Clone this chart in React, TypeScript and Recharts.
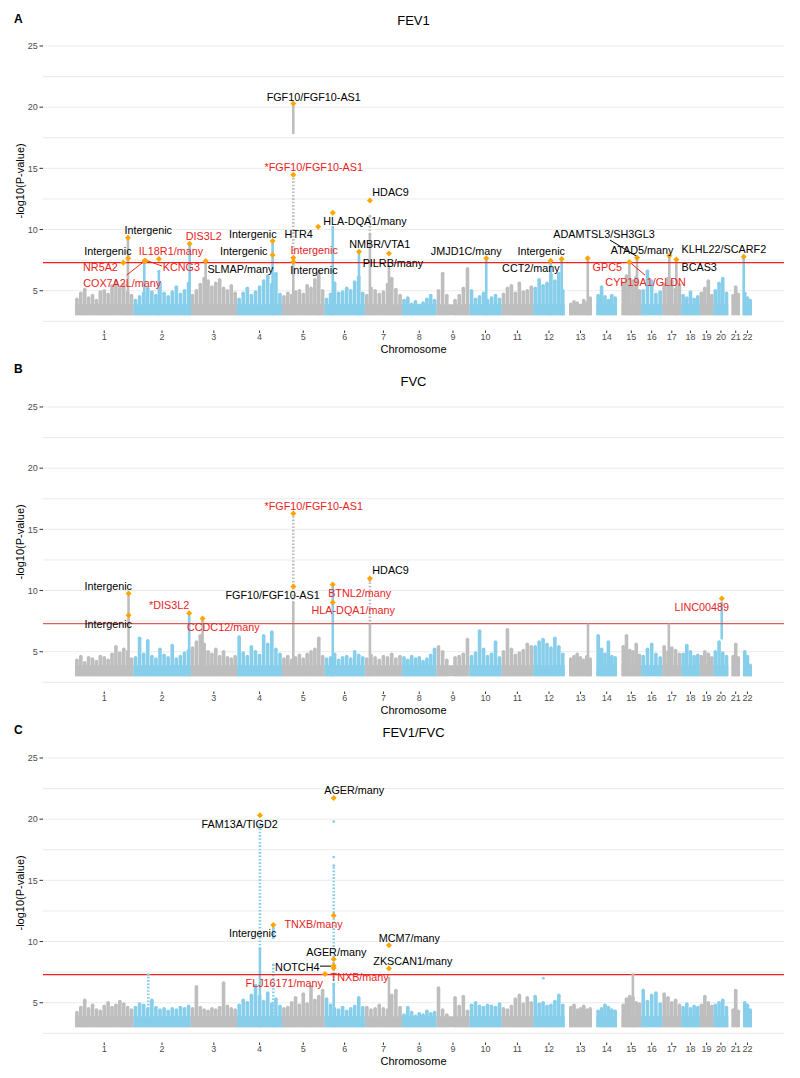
import React from 'react'
import {
  ScatterChart,
  Scatter,
  XAxis,
  YAxis,
  CartesianGrid,
  ReferenceLine,
  ReferenceArea,
  ErrorBar,
} from 'recharts'

// chromosome layout (hg19, Mb)
const chromosomes = ['1', '2', '3', '4', '5', '6', '7', '8', '9', '10', '11', '12', '13', '14', '15', '16', '17', '18', '19', '20', '21', '22']
const chromLengthMb = [249, 243, 198, 191, 181, 171, 159, 146, 141, 136, 135, 134, 115, 107, 103, 90, 81, 78, 59, 63, 48, 51]
const chromFirstMb = [0, 0, 0, 0, 0, 0, 0, 0, 0, 0, 0, 0, 19, 20, 20, 0, 0, 0, 0, 0, 15, 16]

type Bg = (number | null)[][]
type Column = [number, number, number, number, 'dense' | 'sparse'] // chr, pos Mb, from, to
type Lead = [number, number, number] // chr, pos Mb, -log10 p
type Label = [string, number, number, boolean] // text, genome Mb, -log10 p, novel
type Leader = [number, number, number, number, boolean] // x1, y1, x2, y2, novel

// ---------- FEV1 ----------
const fev1Background: Bg = [
  [4.3, 4.8, 5.1, 4.4, 4.6, 4.2, 4.9, 5.0, 4.7, 5.4, 5.8, 5.2, 5.5, 4.9, 4.6],
  [4.2, 4.5, 4.8, 5.2, 4.9, 4.6, 5.6, 4.8, 4.5, 4.9, 5.3, 4.7, 5.0, 5.6],
  [4.6, 5.0, 5.5, 6.0, 5.8, 5.3, 5.6, 5.9, 5.2, 5.0, 5.4, 4.8],
  [4.3, 4.8, 5.2, 4.6, 4.9, 5.3, 5.8, 6.2, 5.5, 6.4, 4.7],
  [4.5, 4.8, 4.6, 4.9, 5.0, 4.7, 5.4, 5.2, 5.9, 6.5, 5.0],
  [4.3, 4.7, 5.6, 4.8, 4.9, 5.2, 5.0, 5.7, 6.1, 4.8],
  [4.6, 5.2, 5.0, 4.7, 4.9, 5.5, 6.0, 5.1, 4.6],
  [4.2, 4.4, 3.9, 4.1, 3.8, 4.0, 4.3, 4.6, 4.2],
  [5.0, 6.4, 4.6, null, 4.2, 4.6, 5.2, 6.8],
  [5.0, 4.3, 4.5, 4.8, 4.2, 4.4, 4.6, 4.3],
  [4.7, 5.2, 5.4, 4.8, 5.6, 4.9, 5.0, 5.3],
  [5.2, 5.9, 5.4, 5.6, 6.3, 5.8, 6.4, 5.0],
  [3.9, 4.1, 4.0, 3.8, 4.2, 4.0, 4.4],
  [4.6, 5.3, 4.5, 4.2, 4.6, 4.4],
  [5.6, 6.2, 5.3, 5.8, 6.1, 5.0],
  [5.0, 6.6, 5.8, 4.7, 4.9],
  [5.5, 6.0, 5.8, 5.1, 5.5],
  [4.6, 4.4, 4.9, 4.3, 4.5],
  [4.8, 5.2, 5.8, 4.6],
  [5.0, 5.6, 6.0, 4.8],
  [4.6, 5.3, 4.7],
  [4.8, 4.4, 4.2],
]
const fev1Columns: Column[] = [
  [1, 225.5, 3, 9.3, 'dense'],
  [2, 46, 3, 7.4, 'dense'],
  [2, 108, 3, 6.6, 'dense'],
  [2, 239, 3, 8.8, 'dense'],
  [3, 64, 3, 7.4, 'dense'],
  [4, 151, 3, 9.0, 'dense'],
  [5, 48, 3, 7.7, 'dense'],
  [5, 48, 7.7, 14.4, 'sparse'],
  [5, 48, 17.8, 20.3, 'dense'],
  [5, 154, 3, 6.2, 'dense'],
  [6, 35, 3, 10.2, 'dense'],
  [6, 146.5, 3, 8.2, 'dense'],
  [7, 22, 3, 9.6, 'dense'],
  [7, 22, 9.6, 11.1, 'sparse'],
  [7, 103, 3, 7.0, 'dense'],
  [10, 71, 3, 7.6, 'dense'],
  [12, 74, 3, 7.4, 'dense'],
  [12, 121, 3, 7.6, 'dense'],
  [13, 98, 3, 7.6, 'dense'],
  [15, 53, 3, 7.3, 'dense'],
  [15, 85.5, 3, 7.7, 'dense'],
  [17, 30, 3, 7.8, 'dense'],
  [17, 60, 3, 7.5, 'dense'],
  [22, 17.5, 3, 7.7, 'dense'],
]
const fev1Leads: Lead[] = [
  [1, 225.5, 9.33], [1, 226.5, 7.65], [1, 205.5, 7.29], [2, 46, 7.43], [2, 52, 7.45],
  [2, 108.4, 7.6], [2, 239, 8.84], [3, 64, 7.43], [4, 151, 9.06], [4, 151, 7.92],
  [5, 48, 20.3], [5, 48, 14.48], [5, 48, 7.7], [5, 48, 7.37], [5, 154, 10.23],
  [6, 35, 11.37], [6, 146.5, 8.19], [7, 22, 12.38], [7, 103, 8.05], [10, 71, 7.65],
  [12, 74, 7.45], [12, 121, 7.6], [13, 97.7, 7.65], [15, 53, 7.35], [15, 85.5, 7.7],
  [17, 30, 7.85], [17, 60, 7.55], [22, 17.5, 7.78],
]
const fev1Labels: Label[] = [
  ['Intergenic', 312, 9.96, false],
  ['Intergenic', 140, 8.27, false],
  ['NR5A2', 108.5, 6.96, true],
  ['COX7A2L/many', 201, 5.65, true],
  ['IL18R1/many', 408.5, 8.27, true],
  ['KCNG3', 453, 6.96, true],
  ['DIS3L2', 547.7, 9.47, true],
  ['SLMAP/many', 704, 6.75, false],
  ['Intergenic', 756.8, 9.61, false],
  ['Intergenic', 718.5, 8.27, false],
  ['FGF10/FGF10-AS1', 1016, 20.85, false],
  ['*FGF10/FGF10-AS1', 1016, 15.13, true],
  ['Intergenic', 1018, 8.33, true],
  ['Intergenic', 1017, 6.69, false],
  ['HTR4', 952, 9.61, false],
  ['HLA-DQA1/many', 1234, 10.72, false],
  ['HDAC9', 1343, 13.04, false],
  ['NMBR/VTA1', 1297, 8.82, false],
  ['PILRB/many', 1353, 7.29, false],
  ['JMJD1C/many', 1665, 8.27, false],
  ['CCT2/many', 1940, 6.83, false],
  ['Intergenic', 1984, 8.27, false],
  ['ADAMTSL3/SH3GL3', 2251, 9.61, false],
  ['ATAD5/many', 2413, 8.33, false],
  ['GPC5', 2265, 6.96, true],
  ['CYP19A1/GLDN', 2428, 5.74, true],
  ['BCAS3', 2656, 6.96, false],
  ['KLHL22/SCARF2', 2761, 8.41, false],
]
const fev1Leaders: Leader[] = [
  [220, 6.28, 297.9, 7.45, true],
  [307.7, 7.45, 370, 7.02, true],
  [2276.6, 9.14, 2392.8, 7.78, false],
  [2366, 7.24, 2425.5, 6.28, true],
]

// ---------- FVC ----------
const fvcBackground: Bg = [
  [4.3, 4.6, 4.1, 4.5, 4.4, 4.2, 4.6, 4.5, 4.3, 4.8, 5.4, 4.9, 5.2, 5.0, 4.4],
  [4.5, 6.1, 4.8, 5.9, 4.6, 4.4, 5.2, 4.7, 4.5, 5.5, 4.4, 4.6, 4.9, 5.1],
  [5.3, 5.8, 6.3, 5.6, 5.0, 4.8, 5.2, 4.6, 5.0, 4.5, 4.4, 4.6],
  [6.2, 4.9, 4.6, 5.4, 5.0, 4.7, 6.3, 5.6, 6.6, 5.2, 4.8],
  [4.4, 4.6, 4.3, 4.5, 4.7, 4.4, 4.8, 5.0, 5.2, 6.1, 4.6],
  [4.4, 4.5, 4.8, 4.3, 4.5, 4.6, 4.4, 5.0, 4.7, 4.5],
  [4.4, 4.7, 4.5, 4.3, 4.6, 4.5, 4.8, 4.4, 4.6],
  [4.5, 4.3, 4.6, 4.4, 4.5, 4.2, 4.4, 4.7, 5.2],
  [5.4, 5.0, 4.3, null, 4.5, 4.6, 4.8, 6.0],
  [4.6, 4.9, 6.7, 5.2, 4.6, 4.8, 5.8, 4.5],
  [5.0, 6.8, 5.2, 4.7, 4.9, 5.1, 5.6, 5.4],
  [5.4, 5.8, 6.0, 5.6, 5.3, 6.1, 5.4, 4.8],
  [4.4, 4.6, 4.8, 4.5, 4.3, 4.6, 4.4],
  [6.3, 5.2, 4.8, 5.8, 4.6, 4.5],
  [5.4, 6.3, 5.1, 5.0, 5.6, 4.7],
  [4.6, 5.2, 5.6, 4.8, 4.5],
  [5.4, 5.0, 5.3, 5.1, 4.8],
  [4.8, 5.5, 5.0, 4.6, 4.7],
  [4.6, 5.0, 4.8, 4.5],
  [5.0, 5.8, 4.9, 4.6],
  [4.6, 5.6, 4.5],
  [5.0, 4.6, 3.9],
]
const fvcColumns: Column[] = [
  [1, 228, 3, 9.7, 'dense'],
  [2, 237, 3, 8.1, 'dense'],
  [3, 51, 3, 7.7, 'dense'],
  [5, 48, 3, 9.0, 'dense'],
  [5, 48, 9.0, 16.3, 'sparse'],
  [6, 35, 3, 10.4, 'dense'],
  [7, 22, 3, 7.2, 'dense'],
  [7, 22, 7.2, 10.8, 'sparse'],
  [13, 99, 3, 7.2, 'dense'],
  [17, 28, 3, 7.2, 'dense'],
  [20, 35, 6.0, 9.0, 'dense'],
]
const fvcLeads: Lead[] = [
  [1, 228, 9.76], [1, 228, 7.99], [2, 237, 8.15], [3, 51, 7.72], [5, 48, 16.29],
  [5, 48, 10.33], [6, 35, 10.5], [6, 35, 9.02], [7, 22, 10.98], [20, 35, 9.35],
]
const fvcLabels: Label[] = [
  ['Intergenic', 141.8, 10.36, false],
  ['Intergenic', 141.8, 7.29, false],
  ['*DIS3L2', 401, 8.78, true],
  ['CCDC12/many', 631, 7.01, true],
  ['*FGF10/FGF10-AS1', 1016, 16.94, true],
  ['FGF10/FGF10-AS1', 841, 9.62, false],
  ['BTNL2/many', 1211.4, 9.82, true],
  ['HLA-DQA1/many', 1184, 8.37, true],
  ['HDAC9', 1343, 11.64, false],
  ['LINC00489', 2667, 8.64, true],
]
const fvcLeaders: Leader[] = []

// ---------- FEV1/FVC ----------
const ratioBackground: Bg = [
  [4.2, 4.6, 5.2, 4.5, 4.8, 4.4, 4.3, 4.7, 5.0, 4.6, 4.8, 5.1, 4.9, 4.6, 4.4],
  [4.6, 4.9, 4.8, 4.5, 5.2, 4.6, 4.4, 4.5, 4.3, 4.5, 4.4, 4.6, 4.5, 4.7],
  [4.5, 6.3, 4.6, 4.4, 4.3, 4.5, 4.4, 4.6, 6.6, 4.7, 4.5, 4.4],
  [4.8, 5.2, 5.0, 5.6, 6.4, 5.5, 5.1, 5.8, 4.9, 5.3, 4.7],
  [4.5, 4.6, 5.0, 5.4, 4.8, 5.7, 4.9, 6.3, 5.2, 5.5, 6.0],
  [5.3, 4.8, 4.5, 4.4, 4.6, 4.3, 4.5, 4.7, 5.4, 4.6],
  [4.6, 4.4, 4.5, 4.8, 4.5, 4.4, 5.6, 6.0, 4.6],
  [4.0, 4.6, 4.2, 3.9, 4.1, 4.0, 4.3, 4.1, 4.2],
  [6.2, 4.4, 4.0, null, 5.4, 4.7, 5.5, 4.3],
  [4.8, 5.0, 4.7, 4.6, 4.8, 4.7, 4.6, 4.9],
  [4.5, 4.4, 4.7, 5.3, 5.6, 4.9, 5.4, 5.0],
  [5.5, 4.9, 5.0, 4.7, 4.8, 5.1, 5.6, 4.8],
  [4.6, 4.8, 4.4, 4.5, 4.7, 4.4, 4.5],
  [4.3, 4.5, 4.8, 4.6, 4.4, 4.3],
  [4.8, 5.3, 5.5, 5.4, 5.0, 4.9],
  [6.0, 5.1, 5.6, 5.8, 4.9],
  [5.7, 5.4, 5.0, 5.2, 4.8],
  [4.6, 4.9, 4.5, 4.7, 4.6],
  [4.8, 5.5, 5.0, 4.7],
  [4.8, 5.0, 5.2, 4.6],
  [4.4, 6.0, 4.3],
  [5.0, 4.8, 4.4],
]
const ratioColumns: Column[] = [
  [2, 63, 4.5, 7.3, 'sparse'],
  [4, 97, 3, 9.4, 'dense'],
  [4, 97, 9.4, 19.6, 'sparse'],
  [4, 154, 3, 8.1, 'sparse'],
  [4, 154, 10.2, 11.1, 'dense'],
  [6, 39, 3, 6.5, 'dense'],
  [6, 39, 6.5, 16.2, 'sparse'],
  [6, 39, 16.9, 16.9, 'dense'],
  [6, 39, 19.8, 19.8, 'dense'],
  [7, 103, 3, 7.0, 'dense'],
  [12, 43, 7.0, 7.0, 'dense'],
  [15, 68, 3, 7.3, 'dense'],
]
const ratioLeads: Lead[] = [
  [4, 97, 20.32], [6, 39, 21.73], [6, 39, 12.12], [4, 154, 11.36], [6, 39, 8.56],
  [6, 39, 8.02], [6, 39, 7.84], [6, 2, 7.34], [7, 103, 9.7], [7, 103, 7.79],
]
const ratioLabels: Label[] = [
  ['FAM13A/TIGD2', 700.7, 19.61, false],
  ['AGER/many', 1188.5, 22.36, false],
  ['TNXB/many', 1015, 11.44, true],
  ['Intergenic', 756, 10.68, false],
  ['AGER/many', 1112, 9.18, false],
  ['NOTCH4', 946, 7.96, false],
  ['FLJ16171/many', 890.6, 6.65, true],
  ['TNXB/many', 1211.4, 7.14, true],
  ['MCM7/many', 1423, 10.32, false],
  ['ZKSCAN1/many', 1438, 8.42, false],
]
const ratioLeaders: Leader[] = [[1042.5, 7.99, 1089, 7.99, false]]

const yTicks = [5, 10, 15, 20, 25]
const gridValues = [2.5, 5, 7.5, 10, 12.5, 15, 17.5, 20, 22.5, 25]
const SIGNIFICANCE = 7.3

const GREY = '#bebebe'
const BLUE = '#87ceeb'
const ORANGE = '#ffa500'
const RED = '#e8231d'
const FONT = '"Liberation Sans", Arial, sans-serif'

const chromOffset: number[] = []
chromLengthMb.reduce((acc, len, i) => {
  chromOffset[i] = acc
  return acc + len
}, 0)
const chromCenters = chromLengthMb.map((len, i) => chromOffset[i] + (chromFirstMb[i] + len) / 2)
const chromColor = (i: number) => (i % 2 === 0 ? GREY : BLUE)

type Props = {
  top: number
  background: Bg
  columns: Column[]
  leads: Lead[]
  labels: Label[]
  leaders: Leader[]
  sigColor: string
}

function Manhattan({ top, background, columns, leads, labels, leaders, sigColor }: Props) {
  const bg: Record<string, any[]> = { g: [], b: [] }
  background.forEach((vals, i) => {
    const start = chromOffset[i] + chromFirstMb[i]
    const span = chromLengthMb[i] - chromFirstMb[i]
    vals.forEach((v, k) => {
      if (v == null) return
      const x = start + ((k + 0.5) * span) / vals.length
      bg[i % 2 === 0 ? 'g' : 'b'].push({ x, y: v, err: [v - 3, 0] })
    })
  })

  const cols: Record<string, any[]> = { gd: [], bd: [], gs: [], bs: [] }
  columns.forEach(([chr, pos, from, to, kind]) => {
    const key = ((chr - 1) % 2 === 0 ? 'g' : 'b') + (kind === 'dense' ? 'd' : 's')
    cols[key].push({ x: chromOffset[chr - 1] + pos, y: to, err: [to - from, 0] })
  })

  const leadPts = leads.map(([chr, pos, v]) => ({ x: chromOffset[chr - 1] + pos, y: v }))
  const labelPts = labels.map(([text, x, y, red]) => ({ x, y, text, red }))

  const dot = (color: string, r: number) => (p: any) => (
    <circle cx={p.cx} cy={p.cy} r={r} fill={color} />
  )

  return (
    <div style={{ position: 'absolute', left: 0, top }}>
      <ScatterChart width={800} height={362} margin={{ top: 31.3, right: 16, bottom: 1.5, left: 0 }}>
        <CartesianGrid vertical={false} horizontalValues={gridValues} stroke="#ebebeb" strokeWidth={1} />
        <XAxis
          type="number"
          dataKey="x"
          domain={[-136, 3017]}
          allowDataOverflow
          ticks={chromCenters}
          interval={0}
          tickFormatter={(_v: number, i: number) => chromosomes[i]}
          height={30}
          axisLine={false}
          tickLine={{ stroke: '#333333' }}
          tickSize={2.5}
          tickMargin={0.5}
          tick={{ fill: '#4d4d4d', fontSize: 9, fontFamily: FONT }}
          label={{ value: 'Chromosome', position: 'insideBottom', offset: 7.5, fill: '#000', fontSize: 11, fontFamily: FONT }}
        />
        <YAxis
          type="number"
          dataKey="y"
          domain={[1.75, 26.2]}
          allowDataOverflow
          ticks={yTicks}
          width={43}
          axisLine={false}
          tickLine={{ stroke: '#333333' }}
          tickSize={3.5}
          tickMargin={1.8}
          tick={{ fill: '#4d4d4d', fontSize: 9, fontFamily: FONT }}
          label={{
            value: '-log10(P-value)',
            angle: -90,
            position: 'insideLeft',
            offset: 20,
            fill: '#000',
            fontSize: 11,
            fontFamily: FONT,
            style: { textAnchor: 'middle' },
          }}
        />
        {chromLengthMb.map((len, i) => (
          <ReferenceArea
            key={'band' + i}
            x1={chromOffset[i] + chromFirstMb[i]}
            x2={chromOffset[i] + len}
            y1={3}
            y2={3.9}
            fill={chromColor(i)}
            fillOpacity={1}
            stroke="none"
          />
        ))}
        <Scatter data={bg.g} dataKey="y" fill={GREY} shape={dot(GREY, 1.8)} isAnimationActive={false}>
          <ErrorBar dataKey="err" direction="y" width={0} stroke={GREY} strokeWidth={3.6} isAnimationActive={false} />
        </Scatter>
        <Scatter data={bg.b} dataKey="y" fill={BLUE} shape={dot(BLUE, 1.8)} isAnimationActive={false}>
          <ErrorBar dataKey="err" direction="y" width={0} stroke={BLUE} strokeWidth={3.6} isAnimationActive={false} />
        </Scatter>
        <Scatter data={cols.gd} dataKey="y" fill={GREY} shape={dot(GREY, 1.4)} isAnimationActive={false}>
          <ErrorBar dataKey="err" direction="y" width={0} stroke={GREY} strokeWidth={2.6} isAnimationActive={false} />
        </Scatter>
        <Scatter data={cols.bd} dataKey="y" fill={BLUE} shape={dot(BLUE, 1.4)} isAnimationActive={false}>
          <ErrorBar dataKey="err" direction="y" width={0} stroke={BLUE} strokeWidth={2.6} isAnimationActive={false} />
        </Scatter>
        <Scatter data={cols.gs} dataKey="y" fill={GREY} shape={dot(GREY, 1.4)} isAnimationActive={false}>
          <ErrorBar dataKey="err" direction="y" width={0} stroke={GREY} strokeWidth={2.6} strokeDasharray="1.6 1.8" isAnimationActive={false} />
        </Scatter>
        <Scatter data={cols.bs} dataKey="y" fill={BLUE} shape={dot(BLUE, 1.4)} isAnimationActive={false}>
          <ErrorBar dataKey="err" direction="y" width={0} stroke={BLUE} strokeWidth={2.6} strokeDasharray="1.6 1.8" isAnimationActive={false} />
        </Scatter>
        <ReferenceLine y={SIGNIFICANCE} stroke={sigColor} strokeWidth={1.3} />
        {leaders.map(([x1, y1, x2, y2, red], i) => (
          <ReferenceLine
            key={'lead' + i}
            segment={[{ x: x1, y: y1 }, { x: x2, y: y2 }]}
            stroke={red ? RED : '#000'}
            strokeWidth={1}
            ifOverflow="visible"
          />
        ))}
        <Scatter
          data={leadPts}
          dataKey="y"
          fill={ORANGE}
          isAnimationActive={false}
          shape={(p: any) => (
            <polygon
              points={`${p.cx},${p.cy - 3} ${p.cx + 3},${p.cy} ${p.cx},${p.cy + 3} ${p.cx - 3},${p.cy}`}
              fill={ORANGE}
            />
          )}
        />
        <Scatter
          data={labelPts}
          dataKey="y"
          isAnimationActive={false}
          shape={(p: any) => (
            <text
              x={p.cx}
              y={p.cy}
              textAnchor="middle"
              dominantBaseline="central"
              fontSize={10.8}
              fontFamily={FONT}
              fill={p.payload.red ? RED : '#000'}
            >
              {p.payload.text}
            </text>
          )}
        />
      </ScatterChart>
    </div>
  )
}

const titles = [
  { letter: 'A', letterY: 19, title: 'FEV1', titleY: 20 },
  { letter: 'B', letterY: 369, title: 'FVC', titleY: 381.7 },
  { letter: 'C', letterY: 730, title: 'FEV1/FVC', titleY: 732 },
]

export default function App() {
  return (
    <div style={{ position: 'absolute', left: 0, top: 0, width: 800, height: 1078, background: '#fff', fontFamily: FONT }}>
      <Manhattan top={0} background={fev1Background} columns={fev1Columns} leads={fev1Leads} labels={fev1Labels} leaders={fev1Leaders} sigColor="#f02020" />
      <Manhattan top={361.3} background={fvcBackground} columns={fvcColumns} leads={fvcLeads} labels={fvcLabels} leaders={fvcLeaders} sigColor="#d66060" />
      <Manhattan top={712.3} background={ratioBackground} columns={ratioColumns} leads={ratioLeads} labels={ratioLabels} leaders={ratioLeaders} sigColor="#f02020" />
      <svg width={800} height={1078} style={{ position: 'absolute', left: 0, top: 0, pointerEvents: 'none' }}>
        {titles.map(t => (
          <g key={t.letter}>
            <text x={18.3} y={t.letterY} textAnchor="middle" dominantBaseline="central" fontSize={12} fontWeight="bold" fontFamily={FONT}>
              {t.letter}
            </text>
            <text x={413.5} y={t.titleY} textAnchor="middle" dominantBaseline="central" fontSize={13} fontFamily={FONT}>
              {t.title}
            </text>
          </g>
        ))}
      </svg>
    </div>
  )
}
